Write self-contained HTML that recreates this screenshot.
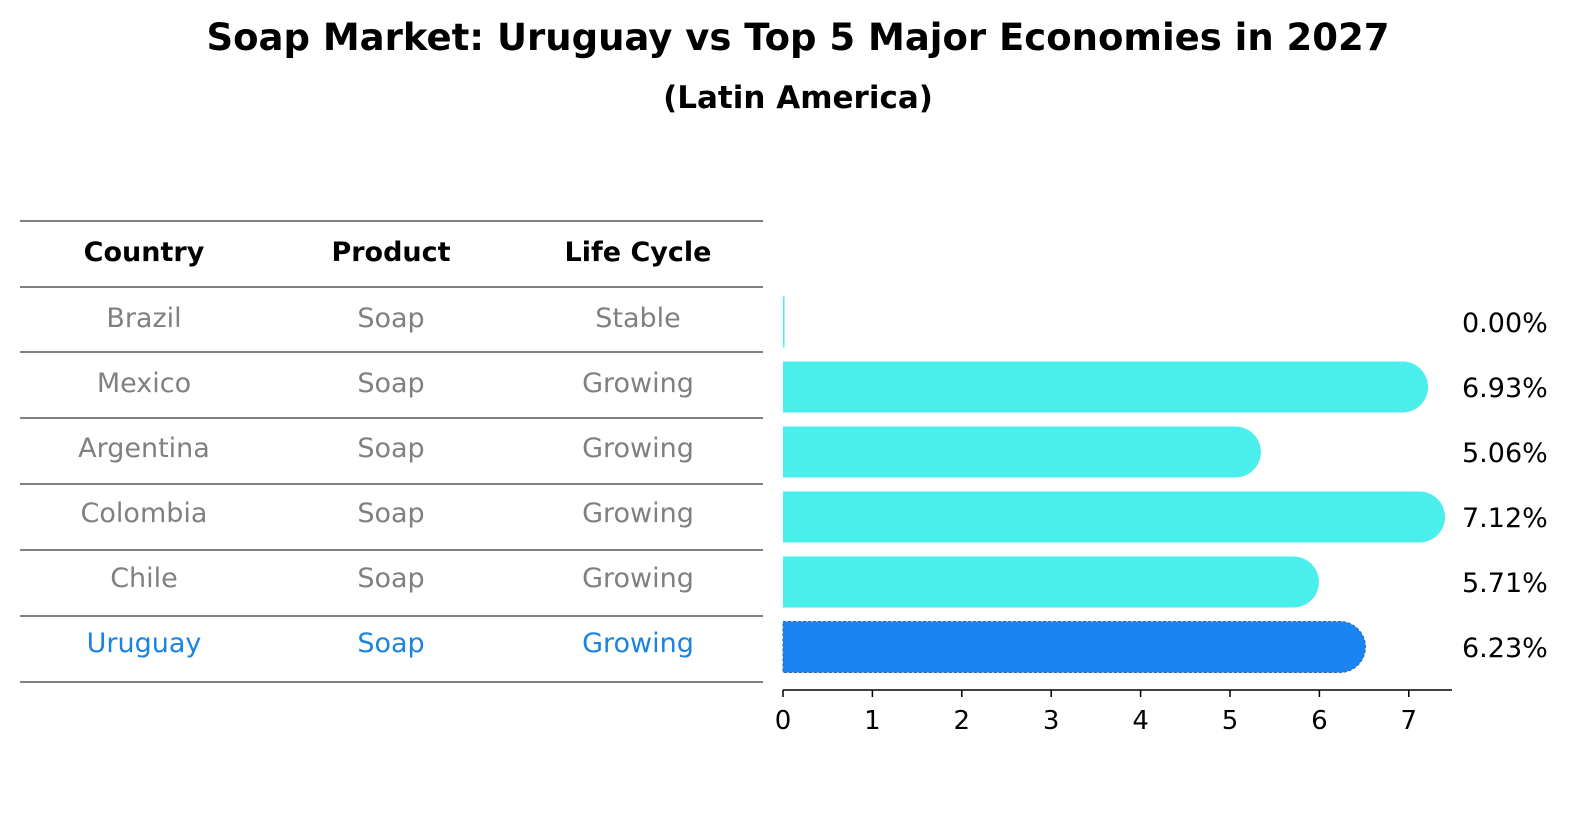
<!DOCTYPE html>
<html><head><meta charset="utf-8"><style>
body{margin:0;background:#fff;font-family:"Liberation Sans","DejaVu Sans",sans-serif}
svg{display:block}
</style></head><body>
<svg width="1586" height="823" viewBox="0 0 1586 823" font-family="DejaVu Sans, Liberation Sans, sans-serif">
<text x="798" y="50" text-anchor="middle" font-size="37" font-weight="bold">Soap Market: Uruguay vs Top 5 Major Economies in 2027</text>
<text x="798" y="108" text-anchor="middle" font-size="31" font-weight="bold">(Latin America)</text>
<g id="table"></g>
<g id="bars"></g>
<g id="axis"></g>
</svg>
<script>
const countries=["Brazil","Mexico","Argentina","Colombia","Chile","Uruguay"];
const products=["Soap","Soap","Soap","Soap","Soap","Soap"];
const cycles=["Stable","Growing","Growing","Growing","Growing","Growing"];
const values=[0.00,6.93,5.06,7.12,5.71,6.23];
const ticks=[0,1,2,3,4,5,6,7];
const NS="http://www.w3.org/2000/svg";
function mk(t,a,p){const e=document.createElementNS(NS,t);for(const k in a)e.setAttribute(k,a[k]);p.appendChild(e);return e;}
const x0=783,pxu=89.4;
const xs=v=>x0+v*pxu;
const yc=i=>322+i*65;
const tbl=document.getElementById('table');
const lines=[221,287,352,418,484,550,616,682];
lines.forEach(y=>{const l=mk('line',{x1:20,x2:763,y1:y,y2:y,stroke:'#000','stroke-width':1},tbl);

});
const cols=[144,391,638];
["Country","Product","Life Cycle"].forEach((h,j)=>{const t=mk('text',{x:cols[j],y:261,'text-anchor':'middle','font-size':27,'font-weight':'bold'},tbl);t.textContent=h;

});
countries.forEach((c,i)=>{const col=i===5?'#1a84e0':'#808080';
[c,products[i],cycles[i]].forEach((s,j)=>{const t=mk('text',{x:cols[j],y:yc(i)+5,'text-anchor':'middle','font-size':27,fill:col},tbl);t.textContent=s;

});});
const bars=document.getElementById('bars');const h=51,r=25.5;
values.forEach((v,i)=>{const y=yc(i)-h/2;const fill=i===5?'#1a84f5':'#4aeeea';
let el;
if(v<=0){el=mk('rect',{x:x0,y:y,width:1.5,height:h,fill:fill},bars);}
else{const xe=xs(v);
el=mk('path',{d:`M${x0},${y}H${xe}A${r},${r} 0 0 1 ${xe},${y+h}H${x0}Z`,fill:fill,stroke:i===5?'#3366aa':'none','stroke-width':1,'stroke-dasharray':'3,2'},bars);}


const t=mk('text',{x:1462,y:yc(i)+10,'font-size':27},bars);t.textContent=v.toFixed(2)+'%';

});
const ax=document.getElementById('axis');
const al=mk('line',{x1:x0,x2:1452,y1:690,y2:690,stroke:'#000','stroke-width':1.5},ax);


ticks.forEach(v=>{const tl=mk('line',{x1:xs(v),x2:xs(v),y1:690,y2:697,stroke:'#000','stroke-width':1.5},ax);


const t=mk('text',{x:xs(v),y:729,'text-anchor':'middle','font-size':26},ax);t.textContent=v;

});
</script>
</body></html>
